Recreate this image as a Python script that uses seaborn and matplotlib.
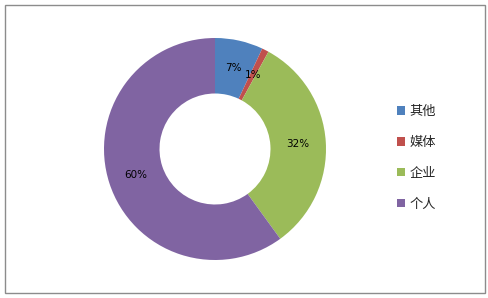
import matplotlib
matplotlib.use("Agg")
import matplotlib.pyplot as plt
import seaborn as sns
from matplotlib.patches import Rectangle, Patch

categories = ["其他", "媒体", "企业", "个人"]
values = [7, 1, 32, 60]
colors = ["#4F81BD", "#C0504D", "#9BBB59", "#8064A2"]

sns.set_theme(style="white")
plt.rcParams['font.family'] = ['Noto Sans CJK SC', 'DejaVu Sans']

W, H = 489, 298
fig = plt.figure(figsize=(W / 100, H / 100), dpi=100)
fig.patch.set_facecolor("white")

cx, cy, r = 215, 149, 111
ax = fig.add_axes([(cx - r) / W, (H - cy - r) / H, 2 * r / W, 2 * r / H])
wedges, texts, autotexts = ax.pie(
    values, colors=colors, startangle=90, counterclock=False,
    radius=1.0, autopct=lambda p: f"{p:.0f}%", pctdistance=0.75,
    wedgeprops=dict(width=0.5, edgecolor="none"),
    textprops=dict(fontsize=7.5, color="black", family="DejaVu Sans"))
ax.set_xlim(-1, 1)
ax.set_ylim(-1, 1)
ax.set_aspect("equal")
ax.axis("off")

handles = [Patch(facecolor=c, edgecolor="none") for c in colors]
fig.legend(handles, categories, loc="center left",
           bbox_to_anchor=(390 / W, 1 - 158 / H), frameon=False,
           prop=dict(family="Noto Sans CJK SC", size=9.5),
           handlelength=0.6, handleheight=0.6, handletextpad=0.35,
           labelspacing=1.35, borderpad=0)

fig.add_artist(Rectangle((5 / W, 5 / H), 480 / W, 288 / H, transform=fig.transFigure,
                         fill=False, edgecolor="#8C8C8C", linewidth=1))

fig.savefig("out.png", dpi=100)
